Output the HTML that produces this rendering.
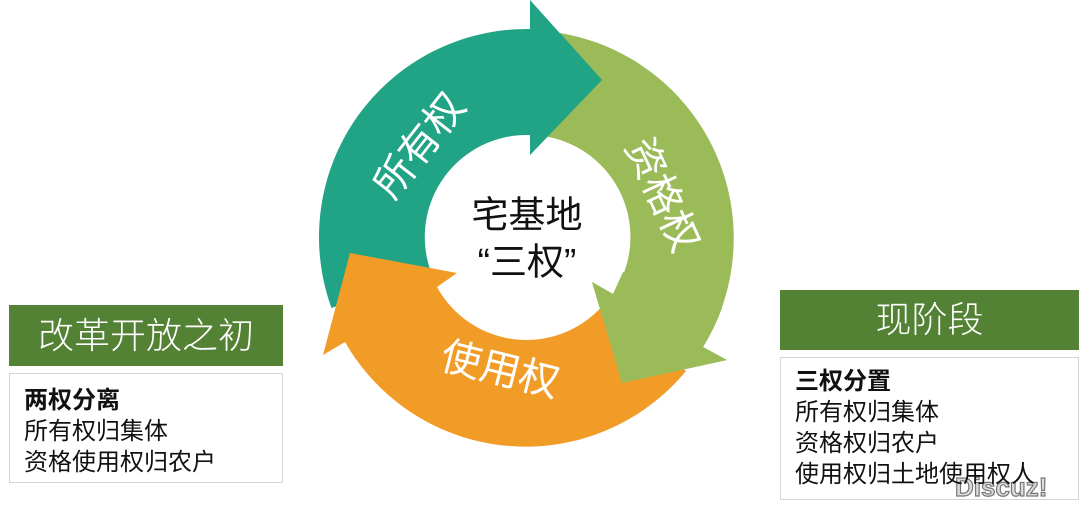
<!DOCTYPE html>
<html><head><meta charset="utf-8"><style>
body{margin:0;width:1080px;height:509px;background:#fff;position:relative;overflow:hidden;font-family:"Liberation Sans","Noto Sans CJK SC",sans-serif}
.hd{position:absolute;background:#548235;color:#fff;text-align:center;font-size:36px;font-family:"Liberation Sans","Noto Sans CJK SC",sans-serif;font-weight:300}
.bx{position:absolute;border:1.5px solid #d6d6d6;box-sizing:border-box;font-size:24px;line-height:31px;color:#111}
.bx b{font-weight:bold}
</style></head><body>
<svg width="1080" height="509" style="position:absolute;left:0;top:0">
<path d="M331.5,308 A208,208 0 0 1 530,29 L530,0 L602,80 L530,155 L530,135 A102,102 0 0 0 431,272 Z" fill="#21a386"/>
<path d="M560,33 A208,208 0 0 1 703,347 L727,360 L622,383 L592,282 L613,294 A102,102 0 0 0 543,136 Z" fill="#9bbb59"/>
<path d="M686,371 A208,208 0 0 1 345,342 L323,355 L350,253 L457,273 L437,287 A102,102 0 0 0 605,303 Z" fill="#f29c28"/>
<path d="M722,308 A208,208 0 0 1 703,347 L727,360 L622,383 L592,282 L613,294 L623,272 Z" fill="#9bbb59"/>
<path d="M560,33 L602,80 L530,155 L530,135 Z" fill="#21a386"/>
<g fill="#fff" font-size="40" font-family="Liberation Sans,Noto Sans CJK SC,sans-serif" text-anchor="middle" dominant-baseline="central">
<text transform="translate(420,146) rotate(-52)">所有权</text>
<text transform="translate(662,195) rotate(65)">资格权</text>
<text transform="translate(500,370) rotate(14)">使用权</text>
</g>
<g fill="#111" font-size="37" font-family="Liberation Sans,Noto Sans CJK SC,sans-serif" text-anchor="middle" dominant-baseline="central">
<text x="527" y="215">宅基地</text>
<text x="527" y="262">“三权”</text>
</g>
<text x="955" y="496" font-size="26" font-weight="bold" fill="#ddd" stroke="#777" stroke-width="1.2" font-family="Liberation Sans,sans-serif">Discuz!</text>
</svg>
<div class="hd" style="left:9px;top:305px;width:274px;height:61px;line-height:61px">改革开放之初</div>
<div class="bx" style="left:9px;top:373px;width:274px;height:110px;padding:11px 0 0 14px"><b>两权分离</b><br>所有权归集体<br>资格使用权归农户</div>
<div class="hd" style="left:780px;top:290px;width:299px;height:60px;line-height:60px">现阶段</div>
<div class="bx" style="left:780px;top:357px;width:299px;height:143px;padding:8px 0 0 14px"><b>三权分置</b><br>所有权归集体<br>资格权归农户<br>使用权归土地使用权人</div>
</body></html>
